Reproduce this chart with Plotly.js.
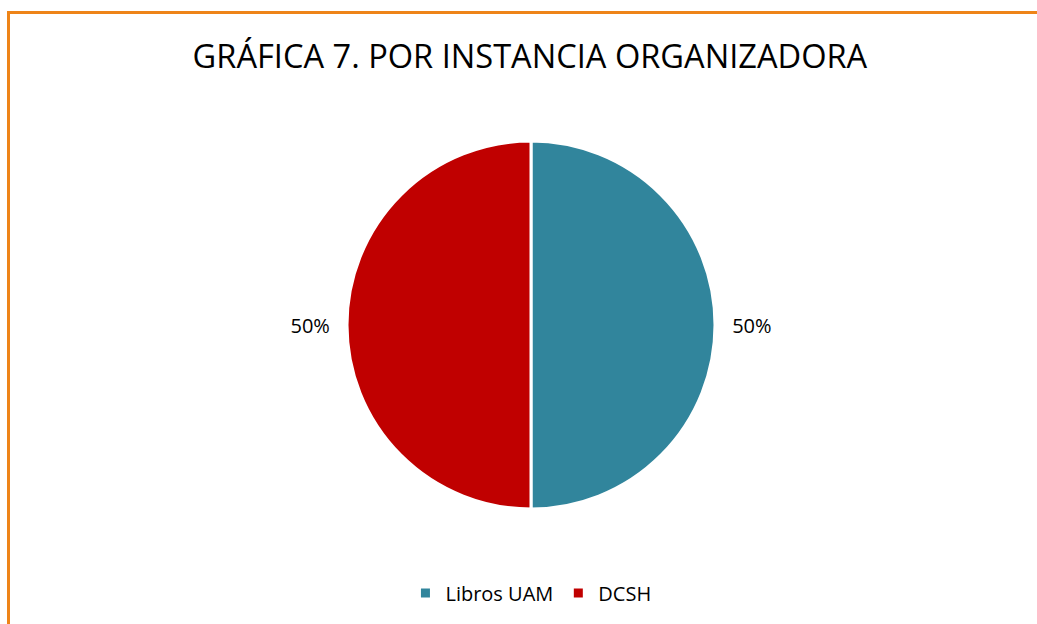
<!DOCTYPE html>
<html>
<head>
<meta charset="utf-8">
<script src="https://cdn.plot.ly/plotly-3.0.1.min.js"></script>
<style>
html,body{margin:0;padding:0;background:#fff;overflow:hidden;}
#frame{position:absolute;left:7px;top:11px;width:1100px;height:700px;border:3px solid #EE8418;box-sizing:border-box;}
#chart{position:absolute;left:0;top:0;width:1037px;height:624px;}
</style>
</head>
<body>
<div id="chart"></div>
<div id="frame"></div>
<script>
var categories = ["Libros UAM", "DCSH"];
var values = [50, 50];
var colors = ["#31859C", "#C00000"];
var titleText = "GRÁFICA 7. POR INSTANCIA ORGANIZADORA";

var W = 1037, H = 624;
var cx = 531, cy = 325, r = 184;

var trace = {
  type: "pie",
  labels: categories,
  values: values,
  sort: false,
  direction: "clockwise",
  rotation: 0,
  marker: {colors: colors, line: {color: "#ffffff", width: 3}},
  texttemplate: "\u00a0\u00a0%{percent}\u00a0\u00a0",
  textposition: "outside",
  outsidetextfont: {family: "Open Sans, sans-serif", size: 20, color: "#000"},
  hoverinfo: "label+percent",
  domain: {x: [(cx - r) / W, (cx + r) / W], y: [1 - (cy + r) / H, 1 - (cy - r) / H]}
};

var layout = {
  width: W, height: H,
  margin: {l: 0, r: 0, t: 0, b: 0},
  paper_bgcolor: "#ffffff",
  font: {family: "Open Sans, sans-serif", color: "#000"},
  title: {text: titleText, x: 0.511, xanchor: "center", y: 1 - 57 / H, yanchor: "middle",
          font: {family: "Open Sans, sans-serif", size: 32.6, color: "#000"}},
  showlegend: true,
  legend: {orientation: "h", x: 0.512, xanchor: "center", y: 1 - 593 / H, yanchor: "middle",
           font: {family: "Open Sans, sans-serif", size: 20, color: "#000"}, itemwidth: 30}
};

Plotly.newPlot("chart", [trace], layout, {displayModeBar: false, staticPlot: true});
</script>
</body>
</html>
